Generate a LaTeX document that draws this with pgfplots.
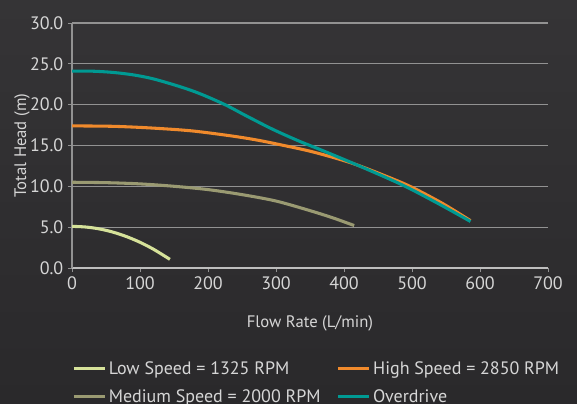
\documentclass[border=0pt]{standalone}
\usepackage{pgfplots}
\pgfplotsset{compat=1.18}
\usepackage{fontspec}
\setmainfont{PT Sans}

\definecolor{bgtop}{HTML}{353436}
\definecolor{bgbot}{HTML}{2A292B}
\definecolor{txt}{HTML}{D6D6D6}
\definecolor{gridc}{HTML}{929292}
\definecolor{lowc}{HTML}{D6E29A}
\definecolor{medc}{HTML}{9A9A72}
\definecolor{highc}{HTML}{F08A2C}
\definecolor{overc}{HTML}{009A93}

\begin{document}
\begin{tikzpicture}
% 1 px of the reference = 0.75pt, axis origin at px (72,268)
\path[use as bounding box] (-54pt,-101.25pt) rectangle (378.75pt,201pt);
\clip (-54pt,-101.25pt) rectangle (378.75pt,201pt);
\shade[top color=bgtop, bottom color=bgbot] (-54pt,-101.25pt) rectangle (378.75pt,201pt);
\begin{axis}[
  at={(0,0)}, anchor=origin,
  scale only axis,
  width=357pt, height=183.75pt,
  xmin=0, xmax=700, ymin=0, ymax=30,
  xtick={0,100,...,700},
  ytick={0,5,...,30},
  yticklabel style={/pgf/number format/.cd, fixed, fixed zerofill, precision=1},
  /pgf/number format/assume math mode=true,
  axis x line*=bottom, axis y line*=left,
  x axis line style={draw=gridc!60!white, line width=1pt, -},
  y axis line style={draw=gridc, line width=0.8pt, -},
  tick align=outside, major tick length=3pt,
  tick style={draw=gridc, line width=0.7pt},
  ymajorgrids=true,
  grid style={draw=gridc, line width=0.8pt},
  ticklabel style={font=\fontsize{13.5}{15}\selectfont, text=txt},
  label style={font=\fontsize{12.5}{14}\selectfont, text=txt},
  xlabel={Flow Rate (L/min)},
  ylabel={Total Head (m)},
  xlabel style={at={(axis description cs:0.5,0)}, anchor=center, yshift=-41.5pt},
  ylabel style={at={(axis description cs:-0.105,0.5)}, anchor=center},
  legend columns=2,
  legend style={at={(0,-86pt)}, anchor=west, draw=none, fill=none,
    text=txt, font=\fontsize{13.5}{15}\selectfont,
    /tikz/every even column/.append style={column sep=10pt},
    row sep=6pt, inner sep=0pt},
  legend cell align=left,
  legend image code/.code={\draw[line width=2.4pt, #1] (0pt,0pt) -- (23pt,0pt);},
  every axis plot/.append style={line width=2.3pt, smooth, no marks},
]
\addplot[lowc] coordinates {
  (0,5.1) (20,5.02) (40,4.79) (60,4.4) (80,3.85) (100,3.15) (120,2.29) (144,1.06)
};
\addlegendentry{Low Speed = 1325 RPM}
\addplot[highc] coordinates {
  (0,17.4) (60,17.35) (115,17.15) (175,16.8) (232,16.2) (270,15.7)
  (306,15.1) (355,14.2) (413,12.8) (472,10.9) (502,9.8) (545,7.9) (586,5.8)
};
\addlegendentry{High Speed = 2850 RPM}
\addplot[medc] coordinates {
  (0,10.5) (50,10.45) (100,10.3) (151,10.0) (200,9.6) (249,9.0) (300,8.2)
  (351,7.0) (385,6.1) (415,5.2)
};
\addlegendentry{Medium Speed = 2000 RPM}
\addplot[overc] coordinates {
  (0,24.1) (30,24.1) (60,23.95) (90,23.65) (120,23.15) (159,22.2)
  (188,21.35) (225,20.0) (257,18.6) (296,16.95) (335,15.5) (365,14.5)
  (414,12.8) (472,10.7) (502,9.5) (545,7.6) (586,5.7)
};
\addlegendentry{Overdrive}
\end{axis}
\end{tikzpicture}
\end{document}
